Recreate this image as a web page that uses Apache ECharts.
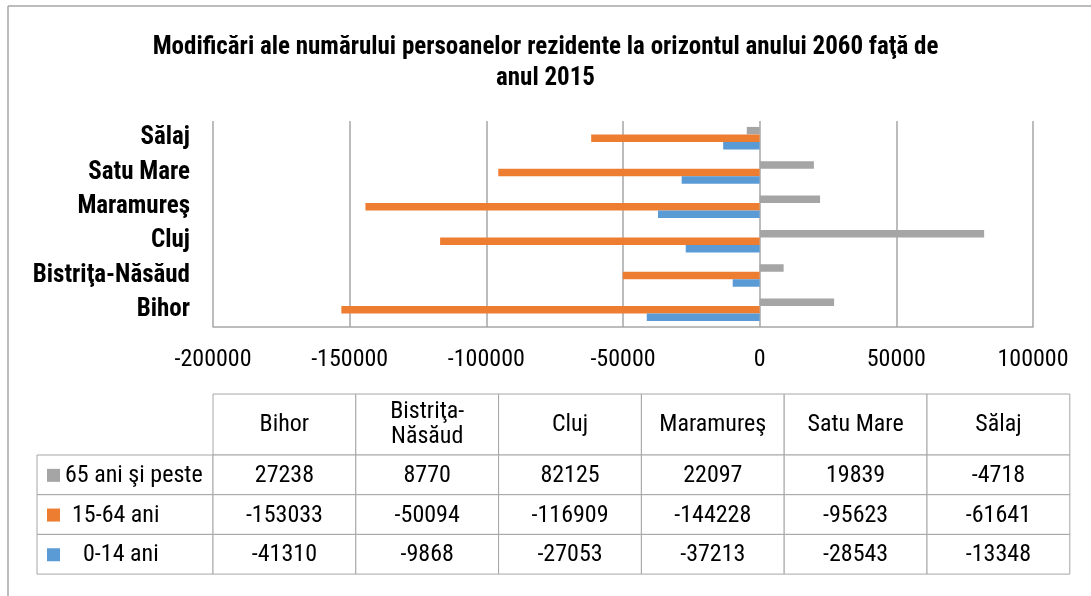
<!DOCTYPE html>
<html>
<head>
<meta charset="utf-8">
<script src="https://cdn.jsdelivr.net/npm/echarts@6/dist/echarts.min.js"></script>
<style>
html, body { margin: 0; padding: 0; background: #fff; }
#chart { width: 1091px; height: 596px; }
</style>
</head>
<body>
<div id="chart"></div>
<script>
var FONT = 'Roboto, "Liberation Sans", sans-serif';

// judete (categorii)
var categories = ['Bihor', 'Bistriţa-Năsăud', 'Cluj', 'Maramureş', 'Satu Mare', 'Sălaj'];
// valori pe grupe de varsta
var ani65 = [27238, 8770, 82125, 22097, 19839, -4718];
var ani1564 = [-153033, -50094, -116909, -144228, -95623, -61641];
var ani014 = [-41310, -9868, -27053, -37213, -28543, -13348];
var seriesNames = ['65 ani şi peste', '15-64 ani', '0-14 ani'];
var colors = ['#a5a5a5', '#ed7d31', '#5b9bd5'];

var chart = echarts.init(document.getElementById('chart'));

// tabelul de date de sub grafic
function buildTable() {
    var els = [];
    var left = 37, x0 = 213, colW = 142.8, top = 394, headH = 61, rowH = 39.7;
    var border = '#a6a6a6';
    var font = 'normal condensed 24px ' + FONT;
    var rows = [ani65, ani1564, ani014];
    var indent = [28, 35, 46];
    var i, j;
    for (j = 0; j < categories.length; j++) {
        els.push({
            type: 'rect',
            shape: { x: x0 + j * colW, y: top, width: colW, height: headH },
            style: { fill: '#fff', stroke: border, lineWidth: 1 }
        });
        els.push({
            type: 'text',
            x: x0 + j * colW + colW / 2, y: top + headH / 2,
            style: {
                text: categories[j].replace('-', '-\n'),
                align: 'center', verticalAlign: 'middle',
                font: font, fill: '#000', lineHeight: 25
            }
        });
    }
    for (i = 0; i < rows.length; i++) {
        var y = top + headH + i * rowH;
        els.push({
            type: 'rect',
            shape: { x: left, y: y, width: x0 - left, height: rowH },
            style: { fill: '#fff', stroke: border, lineWidth: 1 }
        });
        els.push({
            type: 'rect',
            shape: { x: left + 10, y: y + rowH / 2 - 6, width: 13, height: 13 },
            style: { fill: colors[i] }
        });
        els.push({
            type: 'text',
            x: left + indent[i], y: y + rowH / 2 + 1,
            style: {
                text: seriesNames[i], align: 'left', verticalAlign: 'middle',
                font: font, fill: '#000'
            }
        });
        for (j = 0; j < categories.length; j++) {
            els.push({
                type: 'rect',
                shape: { x: x0 + j * colW, y: y, width: colW, height: rowH },
                style: { fill: '#fff', stroke: border, lineWidth: 1 }
            });
            els.push({
                type: 'text',
                x: x0 + j * colW + colW / 2, y: y + rowH / 2 + 1,
                style: {
                    text: String(rows[i][j]), align: 'center', verticalAlign: 'middle',
                    font: font, fill: '#000'
                }
            });
        }
    }
    // rama
    els.push({ type: 'line', shape: { x1: 8, y1: 6, x2: 1091, y2: 6 }, style: { stroke: '#a6a6a6', lineWidth: 1.5 } });
    els.push({ type: 'line', shape: { x1: 8, y1: 6, x2: 8, y2: 596 }, style: { stroke: '#a6a6a6', lineWidth: 1.5 } });
    return els;
}

var option = {
    animation: false,
    title: {
        text: 'Modificări ale numărului persoanelor rezidente la orizontul anului 2060 faţă de\nanul 2015',
        left: 'center',
        top: 27,
        textStyle: { fontFamily: FONT, fontSize: 25, fontWeight: 'bold condensed', color: '#000', lineHeight: 31 }
    },
    grid: { left: 213, right: 58, top: 121, bottom: 269 },
    xAxis: {
        type: 'value',
        min: -200000, max: 100000, interval: 50000,
        axisLine: { show: true, lineStyle: { color: '#a6a6a6', width: 1.5 } },
        axisTick: { show: false },
        axisLabel: {
            color: '#000', fontFamily: FONT, fontSize: 24, fontWeight: 'normal condensed', margin: 21,
            formatter: function (v) { return String(v); }
        },
        splitLine: { show: true, lineStyle: { color: '#a6a6a6', width: 1.5 } }
    },
    yAxis: {
        type: 'category',
        data: categories,
        axisLine: { show: false },
        axisTick: { show: false },
        axisLabel: { color: '#000', fontFamily: FONT, fontSize: 25, fontWeight: 'bold condensed', margin: 23 }
    },
    series: [
        { name: seriesNames[0], type: 'bar', data: ani65, barWidth: 7.5, barGap: '0%', itemStyle: { color: colors[0] } },
        { name: seriesNames[1], type: 'bar', data: ani1564, barWidth: 7.5, barGap: '0%', itemStyle: { color: colors[1] } },
        { name: seriesNames[2], type: 'bar', data: ani014, barWidth: 7.5, barGap: '0%', itemStyle: { color: colors[2] } }
    ],
    graphic: buildTable()
};
chart.setOption(option);
</script>
</body>
</html>
